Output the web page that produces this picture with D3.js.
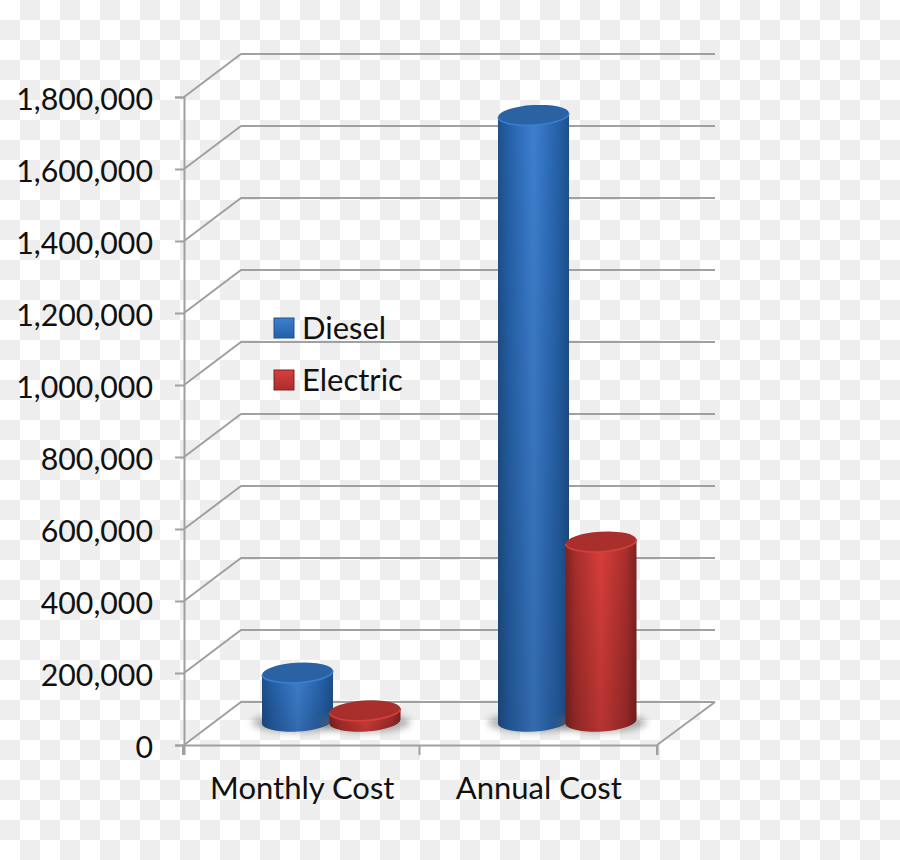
<!DOCTYPE html>
<html>
<head>
<meta charset="utf-8">
<script src="https://cdnjs.cloudflare.com/ajax/libs/d3/7.8.5/d3.min.js"></script>
<style>
  html, body { margin: 0; padding: 0; background: #fff; }
  svg { display: block; }
  text { font-family: Lato, "Open Sans", sans-serif; fill: #111; }
</style>
</head>
<body>
<svg id="chart" width="900" height="860"></svg>
<script>
const categories = ['Monthly Cost', 'Annual Cost'];
const seriesNames = ['Diesel', 'Electric'];
const diesel = [141000, 1690000];
const electric = [36000, 505000];
const tickValues = [0, 200000, 400000, 600000, 800000, 1000000, 1200000, 1400000, 1600000, 1800000];

const svg = d3.select('#chart');
const defs = svg.append('defs');

// fake transparency checkerboard behind everything
const pat = defs.append('pattern').attr('id', 'checker').attr('patternUnits', 'userSpaceOnUse')
  .attr('width', 40).attr('height', 40);
pat.append('rect').attr('width', 40).attr('height', 40).attr('fill', '#fff');
pat.append('rect').attr('x', 20).attr('y', 0).attr('width', 20).attr('height', 20).attr('fill', '#eeeeee');
pat.append('rect').attr('x', 0).attr('y', 20).attr('width', 20).attr('height', 20).attr('fill', '#eeeeee');
svg.append('rect').attr('width', 900).attr('height', 860).attr('fill', 'url(#checker)');

const colors = {
  Diesel: { edge: '#1f5088', mid: '#3d7fcf', low: '#2460a8', top: '#2a62a3', rim: '#3a80d2' },
  Electric: { edge: '#7e2221', mid: '#d83e3b', low: '#a82e2c', top: '#a92f2c', rim: '#d6403c' }
};

seriesNames.forEach(name => {
  const c = colors[name];
  const g = defs.append('linearGradient').attr('id', 'body' + name);
  [[0, c.edge], [0.14, c.low], [0.5, c.mid], [0.86, c.low], [1, c.edge]].forEach(s =>
    g.append('stop').attr('offset', s[0]).attr('stop-color', s[1]));
  const v = defs.append('linearGradient').attr('id', 'fade' + name).attr('x2', 0).attr('y2', 1);
  v.append('stop').attr('offset', 0).attr('stop-color', '#000').attr('stop-opacity', 0);
  v.append('stop').attr('offset', 1).attr('stop-color', '#000').attr('stop-opacity', 0.16);
  const lg = defs.append('linearGradient').attr('id', 'key' + name).attr('x2', 0).attr('y2', 1);
  lg.append('stop').attr('offset', 0).attr('stop-color', c.mid);
  lg.append('stop').attr('offset', 1).attr('stop-color', c.low);
});
defs.append('filter').attr('id', 'blur').attr('x', '-30%').attr('y', '-60%').attr('width', '160%').attr('height', '220%')
  .append('feGaussianBlur').attr('stdDeviation', 3.5);

const y = d3.scaleLinear().domain([0, 1800000]).range([745, 97]);
const x = d3.scaleBand().domain(categories).range([184, 657]);
const depth = { dx: 57, dy: -43 };
const gridColor = '#a0a0a0';

// walls: back grid lines plus the diagonals to the front axis
const grid = svg.append('g').attr('fill', 'none').attr('stroke', gridColor).attr('stroke-width', 2);
grid.selectAll('path.wall').data(tickValues).join('path').attr('class', 'wall')
  .attr('d', d => d3.line()([[184, y(d)], [184 + depth.dx, y(d) + depth.dy], [657 + depth.dx + 1, y(d) + depth.dy]]));
grid.append('path').attr('d', d3.line()([[657, y(0)], [657 + depth.dx + 1, y(0) + depth.dy]]));

// front axes
const yAxis = d3.axisLeft(y).tickValues(tickValues).tickFormat(d3.format(',')).tickSize(9).tickPadding(22);
const gy = svg.append('g').attr('transform', 'translate(184,0)').call(yAxis);
gy.select('.domain').attr('stroke', gridColor).attr('stroke-width', 2);
gy.selectAll('.tick line').attr('stroke', gridColor).attr('stroke-width', 2);
gy.selectAll('text').attr('font-size', 30.3).attr('font-family', 'Lato').attr('fill', '#111').attr('dy', '0.4em');

const xAxis = d3.axisBottom(x).tickSize(10).tickPadding(22);
const gx = svg.append('g').attr('transform', `translate(0,${y(0)})`).call(xAxis);
gx.select('.domain').attr('stroke', gridColor).attr('stroke-width', 2);
gx.selectAll('.tick line').attr('stroke', gridColor).attr('stroke-width', 2)
  .attr('transform', `translate(${-x.bandwidth() / 2 - 1},0)`);
svg.append('line').attr('x1', 657).attr('x2', 657).attr('y1', y(0)).attr('y2', y(0) + 10)
  .attr('stroke', gridColor).attr('stroke-width', 2);
gx.selectAll('text').attr('font-size', 31).attr('font-family', 'Lato').attr('fill', '#111');

// cylinders sit half way into the floor
const inner = d3.scaleBand().domain(seriesNames).range([0, 135]);
const barW = 71, ry = 10, tilt = -3.5;
const rise = barW * Math.tan(-tilt * Math.PI / 180);
const floor = y(0) + depth.dy / 2;
const level = v => floor - (y(0) - y(v));
const startX = { 'Monthly Cost': 262, 'Annual Cost': 498 };
const valueOf = { Diesel: diesel, Electric: electric };

const bars = seriesNames.flatMap(s => categories.map((c, i) => ({ s, c, v: valueOf[s][i] })));

function lowerArc(left, yLeft) {
  return `A${barW / 2},${ry} ${tilt} 0 0 ${left + barW},${yLeft - rise}`;
}
function bodyPath(left, top, base) {
  return `M${left},${top + rise / 2}L${left},${base + rise / 2}`
    + lowerArc(left, base + rise / 2)
    + `L${left + barW},${top - rise / 2}Z`;
}

const marks = svg.append('g');
bars.forEach(d => {
  const left = startX[d.c] + inner(d.s);
  const cx = left + barW / 2;
  const top = level(d.v);
  const base = floor - 2;
  const g = marks.append('g');
  // floor shadow
  g.append('ellipse').attr('cx', cx).attr('cy', base + 1).attr('rx', barW / 2 + 10).attr('ry', ry)
    .attr('fill', '#666').attr('opacity', 0.5).attr('filter', 'url(#blur)');
  g.append('path').attr('d', bodyPath(left, top, base)).attr('fill', `url(#body${d.s})`);
  g.append('path').attr('d', bodyPath(left, top, base)).attr('fill', `url(#fade${d.s})`);
  // top cap, the light rim only runs along its front edge
  g.append('ellipse').attr('cx', cx).attr('cy', top).attr('rx', barW / 2).attr('ry', ry)
    .attr('transform', `rotate(${tilt} ${cx} ${top})`)
    .attr('fill', colors[d.s].top);
  g.append('path').attr('d', `M${left},${top + rise / 2}` + lowerArc(left, top + rise / 2))
    .attr('fill', 'none').attr('stroke', colors[d.s].rim).attr('stroke-width', 1.5);
});

// legend
const legendY = d3.scalePoint().domain(seriesNames).range([328, 380]);
const legend = svg.append('g').selectAll('g').data(seriesNames).join('g')
  .attr('transform', d => `translate(274,${legendY(d)})`);
legend.append('rect').attr('y', -10).attr('width', 20).attr('height', 20)
  .attr('fill', d => `url(#key${d})`).attr('stroke', d => colors[d].edge).attr('stroke-width', 1);
legend.append('text').attr('x', 28).attr('dy', '0.34em').attr('font-size', 31).text(d => d);
</script>
</body>
</html>
